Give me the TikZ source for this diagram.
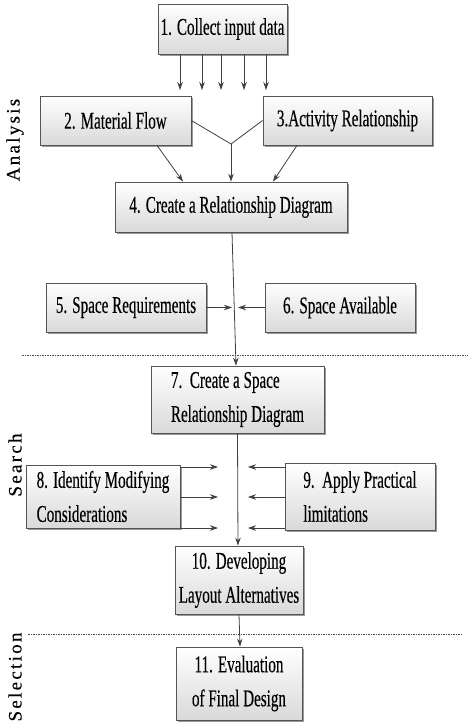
\documentclass[tikz,border=0pt]{standalone}
\usepackage{fontspec}
\setmainfont[FakeStretch=0.63,FakeBold=0.3]{Liberation Serif}
\newfontfamily\sidefont[LetterSpace=12,FakeBold=0.3]{Liberation Serif}
\usetikzlibrary{arrows.meta,shadows}
\definecolor{boxline}{HTML}{555555}
\definecolor{boxshade}{HTML}{D9D9D9}
\definecolor{arrowgray}{HTML}{404040}
\begin{document}
\begin{tikzpicture}[x=1pt,y=-1pt,
	stage/.style={draw=boxline, line width=0.8pt, top color=white, bottom color=boxshade,
		drop shadow={shadow xshift=1.5pt, shadow yshift=-1.5pt, fill=black!40, opacity=1},
		font=\fontsize{24}{34}\selectfont, inner sep=2pt},
	flow/.style={draw=arrowgray, line width=0.8pt, -{Stealth[length=8pt,width=5.5pt]}},
	link/.style={draw=arrowgray, line width=0.8pt},
	phase/.style={rotate=90, font=\sidefont\fontsize{19}{19}\selectfont},
	divider/.style={draw=black!70, line width=0.5pt, dash pattern=on 1.5pt off 1pt}]
		\useasboundingbox (0,0) rectangle (468,724);
		\node[stage, minimum width=129pt, minimum height=50pt] (collect) at (222.5,29) {1. Collect input data};
		\node[stage, minimum width=151pt, minimum height=49pt] (material) at (115.5,120.5) {2. Material Flow};
		\node[stage, minimum width=169pt, minimum height=49pt] (activity) at (347.5,120.5) {3.Activity Relationship};
		\node[stage, minimum width=232pt, minimum height=50pt] (relation) at (231,207) {4. Create a Relationship Diagram};
		\node[stage, minimum width=160pt, minimum height=49pt] (spacereq) at (126,307.5) {5. Space Requirements};
		\node[stage, minimum width=150pt, minimum height=49pt] (spaceavail) at (340,307.5) {6. Space Available};
		\node[stage, minimum width=173pt, minimum height=67pt, align=left] (spacerel) at (237.5,399.5) {7.\ \ Create a Space\\Relationship Diagram};
		\node[stage, minimum width=154pt, minimum height=63pt, align=left] (modify) at (103,496.5) {8. Identify Modifying\\Considerations};
		\node[stage, minimum width=150pt, minimum height=67pt, align=left] (limits) at (360,496.5) {9.\ \ Apply Practical\\limitations};
		\node[stage, minimum width=128pt, minimum height=68pt, align=center] (layout) at (239,580) {10. Developing\\Layout Alternatives};
		\node[stage, minimum width=126pt, minimum height=73pt, align=center] (evaluate) at (239,683.5) {11. Evaluation\\of Final Design};
		% inputs fanning out of step 1
		\foreach \x [count=\i] in {180,202,221,244,266}
			\coordinate (in\i) at (\x,90);
		\foreach \i in {1,...,5}
			\draw[flow] (collect.south -| in\i) -- (in\i);
		\coordinate (merge) at (231,144);
		\draw[link] (material.east) -- (merge) -- (activity.west);
		\draw[flow] (merge) -- (relation.north);
		\draw[flow] ([xshift=41.5pt]material.south) -- ([xshift=-48pt]relation.north);
		\draw[flow] ([xshift=-50.5pt]activity.south) -- ([xshift=42pt]relation.north);
		\draw[flow] ([xshift=1pt]relation.south) -- ([xshift=-1.5pt]spacerel.north);
		\coordinate (req) at (232,307.5);
		\coordinate (avail) at (238,307.5);
		\draw[flow] (spacereq.east) -- (req);
		\draw[flow] (spaceavail.west) -- (avail);
		% side inputs to the space diagram
		\foreach \y [count=\i] in {467,497,528} {
			\coordinate (mod\i) at (218,\y);
			\coordinate (lim\i) at (248,\y);
			\draw[flow] (modify.east |- mod\i) -- (mod\i);
			\draw[flow] (limits.west |- lim\i) -- (lim\i);
		}
		\draw[flow] (spacerel.south) -- ([xshift=-1pt]layout.north);
		\draw[flow] (layout.south) -- ([xshift=1pt]evaluate.north);
		\draw[divider] (22,355) -- (468,355);
		\draw[divider] (28,634) -- (463,634);
		\node[phase] (analysis) at (15,140) {Analysis};
		\node[phase] (search) at (15,465) {Search};
		\node[phase] (selection) at (15,677) {Selection};
	\end{tikzpicture}
\end{document}
